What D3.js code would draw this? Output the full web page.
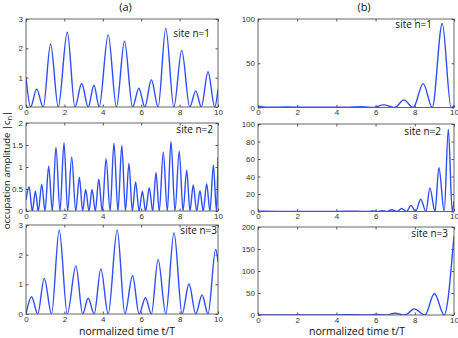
<!DOCTYPE html>
<html lang="en">
<head>
<meta charset="utf-8">
<title>occupation amplitude</title>
<script src="https://d3js.org/d3.v7.min.js"></script>
<style>
  body { margin: 0; background: #fff; }
  .tick text { font-family: "Liberation Sans", Arial, sans-serif; font-size: 8px; fill: #333; }
  .lbl { font-family: "Open Sans", sans-serif; fill: #111; }
</style>
</head>
<body>
<div id="chart"></div>
<script>

// values: [t/T, |c_n|]
var siteA1 = [[0,1.02],[0.24,0],[0.55,0.61],[0.9,0],[1.28,2.15],[1.68,0],[2.15,2.55],[2.55,0],[2.9,0.8],[3.24,0],[3.54,0.74],[3.81,0],[4.28,2.46],[4.71,0],[5.13,2.24],[5.55,0],[5.88,0.64],[6.19,0],[6.53,0.93],[6.88,0],[7.28,2.68],[7.7,0],[8.11,1.93],[8.53,0],[8.84,0.55],[9.13,0],[9.48,1.2],[9.83,0],[10,0.6]];
var siteA2 = [[0,0.25],[0.16,0.55],[0.33,0],[0.49,0.45],[0.64,0],[0.82,0.61],[0.99,0],[1.18,1.02],[1.37,0],[1.56,1.45],[1.77,0],[1.98,1.55],[2.17,0],[2.38,1.23],[2.59,0],[2.78,0.76],[2.95,0],[3.11,0.49],[3.28,0],[3.44,0.49],[3.61,0],[3.79,0.72],[3.97,0],[4.17,1.19],[4.38,0],[4.58,1.54],[4.79,0],[4.99,1.49],[5.18,0],[5.36,1.08],[5.54,0],[5.71,0.66],[5.89,0],[6.06,0.45],[6.23,0],[6.42,0.53],[6.6,0],[6.77,0.87],[6.94,0],[7.15,1.34],[7.36,0],[7.55,1.58],[7.76,0],[7.98,1.36],[8.18,0],[8.37,0.93],[8.54,0],[8.71,0.59],[8.89,0],[9.06,0.46],[9.23,0],[9.41,0.62],[9.58,0],[9.76,1.04],[9.92,0],[10,1.22]];
var siteA3 = [[0,0],[0.29,0.58],[0.61,0],[0.95,1.2],[1.33,0],[1.73,2.83],[2.15,0],[2.6,1.62],[2.95,0],[3.24,0.53],[3.55,0],[3.9,1.52],[4.28,0],[4.75,2.83],[5.15,0],[5.55,1.29],[5.89,0],[6.22,0.55],[6.53,0],[6.88,1.84],[7.28,0],[7.71,2.74],[8.13,0],[8.49,1.01],[8.84,0],[9.17,0.64],[9.48,0],[9.88,2.18],[10,1.76]];
var siteB1 = [[0,1.5],[0.5,0.3],[1.5,0.5],[2.5,0.2],[3.5,0.3],[4.5,0.4],[5.3,0.9],[5.9,0],[6.4,3],[6.98,0],[7.44,8.6],[7.92,0],[8.43,27],[8.89,0],[9.4,95],[9.85,0],[10,2]];
var siteB2 = [[0,0.4],[1,0.2],[2,0.2],[3,0.2],[4,0.2],[5,0.3],[5.62,0],[5.86,0.5],[6.1,0],[6.34,1],[6.61,0],[6.81,2],[7.1,0],[7.33,3.5],[7.58,0],[7.8,7],[8.04,0],[8.3,14],[8.57,0],[8.77,27],[9.03,0],[9.23,50],[9.5,0],[9.71,94],[9.91,0],[10,12]];
var siteB3 = [[0,0.3],[1,0.2],[2,0.2],[3,0.2],[4,0.3],[5,0.5],[5.6,0],[6.05,1.5],[6.56,0],[6.98,4],[7.5,0],[7.97,14],[8.52,0],[9.0,49],[9.5,0],[9.7,38],[9.87,114],[10,179]];

var xTicks = [0, 2, 4, 6, 8, 10];
var yTicksA1 = [0, 1, 2, 3];
var yTicksA2 = [0, 0.5, 1, 1.5, 2];
var yTicksA3 = [0, 1, 2, 3];
var yTicksB1 = [0, 50, 100];
var yTicksB2 = [0, 20, 40, 60, 80, 100];
var yTicksB3 = [0, 50, 100, 150, 200];
var siteNames = ["site n=1", "site n=2", "site n=3"];

var svg = d3.select("#chart").append("svg")
  .attr("width", 458).attr("height", 338);

var fmt = d3.format("~g");

// panel boxes: x0, x1, top, bottom, label pos
var panels = [
  {data: siteA1, ticks: yTicksA1, x0: 26, x1: 218, top: 19, bot: 107, name: siteNames[0], lx: 210, ly: 37},
  {data: siteA2, ticks: yTicksA2, x0: 26, x1: 218, top: 123, bot: 211, name: siteNames[1], lx: 213, ly: 133},
  {data: siteA3, ticks: yTicksA3, x0: 26, x1: 218, top: 225, bot: 314, name: siteNames[2], lx: 217, ly: 234},
  {data: siteB1, ticks: yTicksB1, x0: 258, x1: 454, top: 19, bot: 107.5, name: siteNames[0], lx: 432, ly: 28},
  {data: siteB2, ticks: yTicksB2, x0: 258, x1: 454, top: 124, bot: 211.5, name: siteNames[1], lx: 441, ly: 135},
  {data: siteB3, ticks: yTicksB3, x0: 258, x1: 454, top: 227, bot: 315, name: siteNames[2], lx: 448, ly: 237}
];

panels.forEach(function(p, i) {
  var x = d3.scaleLinear().domain([0, 10]).range([p.x0, p.x1]);
  var y = d3.scaleLinear().domain([0, d3.max(p.ticks)]).range([p.bot, p.top]);

  svg.append("clipPath").attr("id", "clip" + i)
    .append("rect")
      .attr("x", p.x0).attr("y", p.top - 1)
      .attr("width", p.x1 - p.x0).attr("height", p.bot - p.top + 1);

  var line = d3.line()
    .x(function(d) { return x(d[0]); })
    .y(function(d) { return y(d[1]); })
    .curve(d3.curveMonotoneX);

  svg.append("path")
    .datum(p.data)
    .attr("clip-path", "url(#clip" + i + ")")
    .attr("fill", "none")
    .attr("stroke", "#2f4ef7")
    .attr("stroke-width", 1.4)
    .attr("d", line);

  // axes, ticks pointing inward like matlab
  var gx = svg.append("g").attr("transform", "translate(0," + p.bot + ")")
    .call(d3.axisBottom(x).tickValues(xTicks).tickFormat(fmt).tickSize(-2.5).tickPadding(2));
  var gy = svg.append("g").attr("transform", "translate(" + p.x0 + ",0)")
    .call(d3.axisLeft(y).tickValues(p.ticks).tickFormat(fmt).tickSize(-2.5).tickPadding(3));
  var gt = svg.append("g").attr("transform", "translate(0," + p.top + ")")
    .call(d3.axisTop(x).tickValues(xTicks).tickSize(-2.5).tickFormat(""));
  var gr = svg.append("g").attr("transform", "translate(" + p.x1 + ",0)")
    .call(d3.axisRight(y).tickValues(p.ticks).tickSize(-2.5).tickFormat(""));
  [gx, gy, gt, gr].forEach(function(g) {
    g.select(".domain").remove();
    g.selectAll(".tick line").attr("stroke", "#555");
  });

  svg.append("rect")
    .attr("x", p.x0).attr("y", p.top)
    .attr("width", p.x1 - p.x0).attr("height", p.bot - p.top)
    .attr("fill", "none").attr("stroke", "#555").attr("stroke-width", 0.9);

  svg.append("text").attr("class", "lbl")
    .attr("x", p.lx).attr("y", p.ly)
    .attr("text-anchor", "end")
    .style("font-size", "10px")
    .text(p.name);
});

// titles and axis labels
svg.append("text").attr("class", "lbl").attr("x", 125.5).attr("y", 11)
  .attr("text-anchor", "middle").style("font-size", "11px").text("(a)");
svg.append("text").attr("class", "lbl").attr("x", 364).attr("y", 11)
  .attr("text-anchor", "middle").style("font-size", "11px").text("(b)");

svg.append("text").attr("class", "lbl").attr("x", 127).attr("y", 335)
  .attr("text-anchor", "middle").style("font-size", "10.5px").text("normalized time t/T");
svg.append("text").attr("class", "lbl").attr("x", 357).attr("y", 335)
  .attr("text-anchor", "middle").style("font-size", "10.5px").text("normalized time t/T");

var ylab = svg.append("text").attr("class", "lbl")
  .attr("transform", "translate(10,170) rotate(-90)")
  .attr("text-anchor", "middle").style("font-size", "9.5px");
ylab.append("tspan").text("occupation amplitude |c");
ylab.append("tspan").attr("dy", 2).style("font-size", "7px").text("n");
ylab.append("tspan").attr("dy", -2).text("|");

</script>
</body>
</html>
